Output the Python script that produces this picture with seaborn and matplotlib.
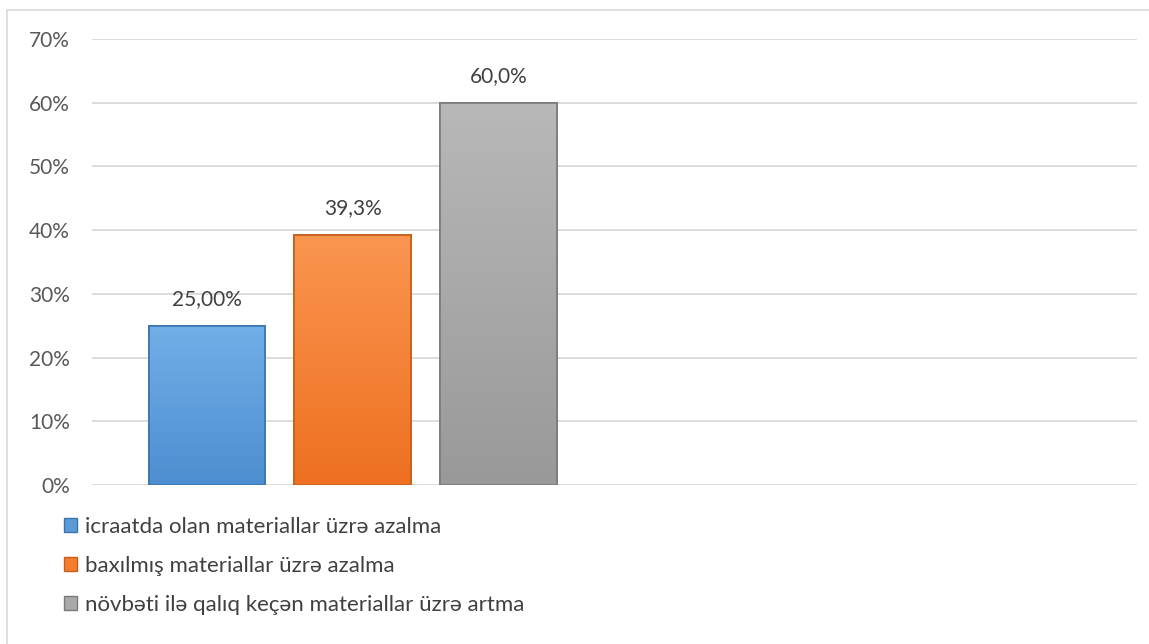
import numpy as np
import pandas as pd
import seaborn as sns
import matplotlib.pyplot as plt
from matplotlib.patches import Rectangle, Patch
from matplotlib.colors import LinearSegmentedColormap

# Data
series = ['icraatda olan materiallar üzrə azalma',
          'baxılmış materiallar üzrə azalma',
          'növbəti ilə qalıq keçən materiallar üzrə artma']
values = [25.0, 39.3, 60.0]
value_labels = ['25,00%', '39,3%', '60,0%']
colors = ['#5B9BD5', '#F57D2C', '#A9A9A9']
tops = ['#72AFE8', '#FA9550', '#B8B8B8']
bottoms = ['#4D8ED0', '#EE7020', '#999999']
edges = ['#3A74AE', '#C45F1A', '#7A7A7A']

df = pd.DataFrame({'series': series, 'value': values})

sns.set_style('white')
plt.rcParams['font.family'] = ['Lato', 'DejaVu Sans']

W, H = 1149, 644
fig = plt.figure(figsize=(W / 100, H / 100), dpi=100)
ax = fig.add_axes([92 / W, 1 - 485 / H, (1137 - 92) / W, (485 - 39) / H])

sns.barplot(data=df, x='series', y='value', hue='series', palette=colors,
            saturation=1, width=0.8, legend=False, ax=ax, zorder=3)

# gradient fill inside each bar
grad = np.linspace(0, 1, 256).reshape(-1, 1)
for bar, t, b, ec in zip(ax.patches, tops, bottoms, edges):
    bar.set_edgecolor(ec)
    bar.set_linewidth(1.2)
    x0, w, h = bar.get_x(), bar.get_width(), bar.get_height()
    cm = LinearSegmentedColormap.from_list('g', [b, t])
    im = ax.imshow(grad, cmap=cm, origin='lower', aspect='auto',
                   extent=(x0, x0 + w, 0, h), zorder=3.5)
    im.set_clip_path(bar)
    ax.add_patch(Rectangle((x0, 0), w, h, fill=False, edgecolor=ec, linewidth=1.2, zorder=4))

for i, (v, lab) in enumerate(zip(values, value_labels)):
    ax.text(i, v + 2.6, lab, ha='center', va='bottom', fontsize=15, color='#404040')

ax.set_ylim(0, 70)
ax.set_xlim(-0.789, 6.38)
ax.set_yticks(range(0, 71, 10))
ax.set_yticklabels([f'{t}%' for t in range(0, 71, 10)], fontsize=15, color='#595959')
ax.set_xticks([])
ax.set_xlabel('')
ax.set_ylabel('')
ax.tick_params(axis='y', length=0, pad=16)
ax.grid(axis='y', color='#D9D9D9', linewidth=1.3, zorder=0)
for s in ax.spines.values():
    s.set_visible(False)

# legend
handles = [Patch(facecolor=c, edgecolor=e) for c, e in zip(colors, edges)]
fig.legend(handles, series, loc='upper left', bbox_to_anchor=(44 / W, 1 - 497 / H),
           frameon=False, fontsize=16, labelcolor='#404040', handlelength=0.6,
           handleheight=0.6, handletextpad=0.35, labelspacing=0.85)

# chart border
fig.patches.append(Rectangle((7 / W, -0.1), 1.2, 1 - 10 / H + 0.1, transform=fig.transFigure,
                             fill=False, edgecolor='#D9D9D9', linewidth=1.2))

fig.savefig('out.png', dpi=100)
